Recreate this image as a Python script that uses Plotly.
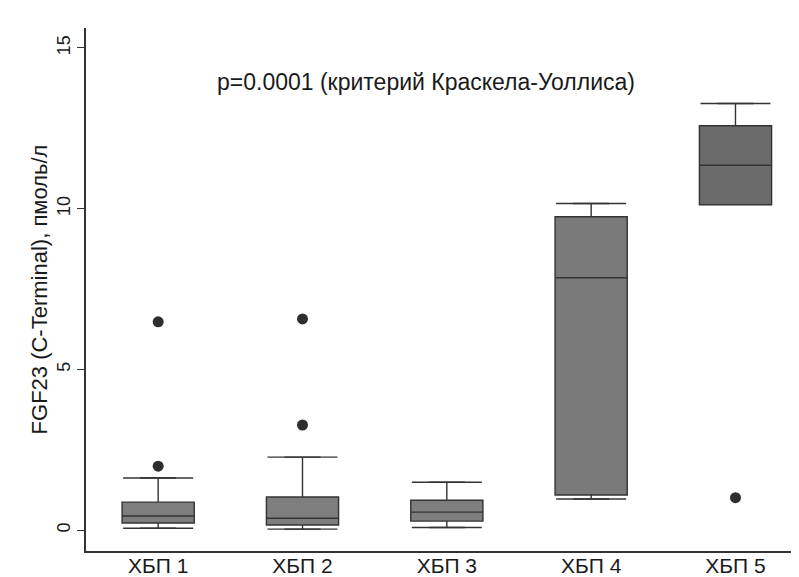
import plotly.graph_objects as go

categories = ["ХБП 1", "ХБП 2", "ХБП 3", "ХБП 4", "ХБП 5"]
q1 = [0.22, 0.16, 0.28, 1.09, 10.12]
median = [0.44, 0.37, 0.56, 7.85, 11.35]
q3 = [0.87, 1.03, 0.93, 9.75, 12.58]
lower_whisker = [0.06, 0.03, 0.08, 0.97, 10.12]
upper_whisker = [1.62, 2.27, 1.49, 10.16, 13.27]

outlier_groups = ["ХБП 1", "ХБП 1", "ХБП 2", "ХБП 2", "ХБП 5"]
outlier_values = [1.99, 6.48, 3.27, 6.57, 1.01]

y_ticks = [0, 5, 10, 15]
annotation_text = "p=0.0001 (критерий Краскела-Уоллиса)"
y_title = "FGF23 (C-Terminal), пмоль/л"

box_fills = ["#7e7e7e", "#7e7e7e", "#7e7e7e", "#7a7a7a", "#6b6b6b"]
edge = "#333333"
font_family = "Liberation Sans, Arial, sans-serif"

fig = go.Figure()

for i, cat in enumerate(categories):
    fig.add_trace(go.Box(
        x=[cat], q1=[q1[i]], median=[median[i]], q3=[q3[i]],
        lowerfence=[lower_whisker[i]], upperfence=[upper_whisker[i]],
        boxpoints=False, width=0.5,
        fillcolor=box_fills[i], line=dict(color=edge, width=1.4),
        showlegend=False, hoverinfo="skip",
    ))

# whisker caps (only where the whisker extends beyond the box)
cap_x, cap_y = [], []
for i, cat in enumerate(categories):
    if lower_whisker[i] < q1[i]:
        cap_x.append(cat)
        cap_y.append(lower_whisker[i])
    if upper_whisker[i] > q3[i]:
        cap_x.append(cat)
        cap_y.append(upper_whisker[i])

fig.add_trace(go.Scatter(
    x=cap_x, y=cap_y, mode="markers",
    marker=dict(symbol="line-ew", size=50, line=dict(color=edge, width=1.4)),
    showlegend=False, hoverinfo="skip",
))

fig.add_trace(go.Scatter(
    x=outlier_groups, y=outlier_values, mode="markers",
    marker=dict(symbol="circle", size=11, color="#2e2e2e"),
    showlegend=False, hoverinfo="skip",
))

fig.add_annotation(
    text=annotation_text, xref="paper", yref="paper",
    x=0.477, y=0.897, xanchor="center", yanchor="middle",
    showarrow=False, font=dict(size=23, color="#1a1a1a", family=font_family),
)

fig.update_layout(
    width=791, height=569,
    margin=dict(l=78, r=0, t=20, b=26),
    paper_bgcolor="white", plot_bgcolor="white",
    boxmode="overlay",
    font=dict(family=font_family, color="#1a1a1a"),
    xaxis=dict(
        type="category", categoryorder="array", categoryarray=categories,
        range=[-0.5, 4.44], showline=True, linecolor=edge, linewidth=1.5,
        ticks="", showgrid=False, zeroline=False, automargin=False,
        tickfont=dict(size=21), ticklabelstandoff=-5,
    ),
    yaxis=dict(
        range=[-0.65, 15.62], showline=True, linecolor=edge, linewidth=1.5,
        ticks="outside", ticklen=7, tickcolor=edge, tickwidth=1.3,
        tickvals=y_ticks, tickangle=-90, tickfont=dict(size=18),
        showgrid=False, zeroline=False, automargin=False,
        title=dict(text=y_title, font=dict(size=22), standoff=0),
    ),
)

fig.write_html("out.html")
